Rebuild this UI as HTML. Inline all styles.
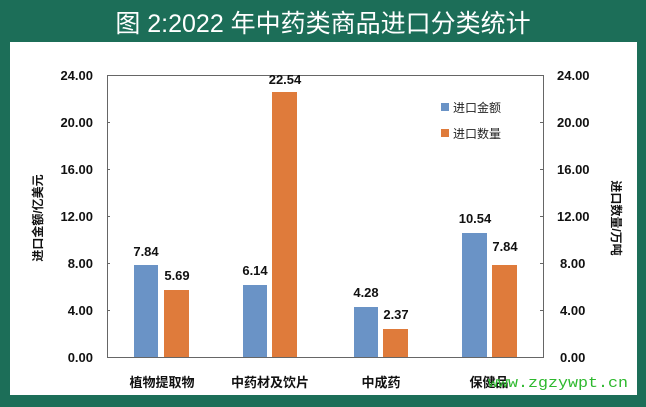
<!DOCTYPE html>
<html><head><meta charset="utf-8"><style>
body{margin:0;width:646px;height:407px;overflow:hidden;background:#1c6e58;font-family:"Liberation Sans","Noto Sans CJK SC",sans-serif;}
</style></head><body>
<svg width="646" height="407" xmlns="http://www.w3.org/2000/svg" style="position:absolute;left:0;top:0">
<rect x="0" y="0" width="646" height="407" fill="#1c6e58"/>
<rect x="10" y="42" width="627" height="353" fill="#fff"/>
<text x="323" y="32" fill="#fff" font-size="25" text-anchor="middle" font-family="Liberation Sans,Noto Sans CJK SC,sans-serif">图 2:2022 年中药类商品进口分类统计</text>
<g stroke="#666" stroke-width="1" fill="none">
<path d="M107.5 75.5 H543.5 M107.5 75 V357 M543.5 75 V357 M107 357.5 H544"/>
<path d="M107 122.5h3M107 169.5h3M107 216.5h3M107 263.5h3M107 310.5h3"/>
<path d="M540 122.5h3M540 169.5h3M540 216.5h3M540 263.5h3M540 310.5h3"/>
</g>
<g font-size="13" font-weight="bold" fill="#111" text-anchor="end" font-family="Liberation Sans,sans-serif">
<text x="93" y="80">24.00</text><text x="93" y="127">20.00</text><text x="93" y="174">16.00</text><text x="93" y="221">12.00</text><text x="93" y="268">8.00</text><text x="93" y="315">4.00</text><text x="93" y="362">0.00</text>
</g>
<g font-size="13" font-weight="bold" fill="#111" font-family="Liberation Sans,sans-serif">
<text x="557" y="80">24.00</text><text x="557" y="127">20.00</text><text x="557" y="174">16.00</text><text x="557" y="221">12.00</text><text x="560" y="268">8.00</text><text x="560" y="315">4.00</text><text x="560" y="362">0.00</text>
</g>
<text transform="translate(42,218) rotate(-90)" font-size="12" font-weight="bold" fill="#111" text-anchor="middle">进口金额/亿美元</text>
<text transform="translate(612,218) rotate(90)" font-size="12" font-weight="bold" fill="#111" text-anchor="middle">进口数量/万吨</text>
<g fill="#6a93c6">
<rect x="134" y="265" width="24" height="92"/>
<rect x="243" y="285" width="24" height="72"/>
<rect x="354" y="307" width="24" height="50"/>
<rect x="462" y="233" width="25" height="124"/>
</g>
<g fill="#df7b3b">
<rect x="164" y="290" width="25" height="67"/>
<rect x="272" y="92" width="25" height="265"/>
<rect x="383" y="329" width="25" height="28"/>
<rect x="492" y="265" width="25" height="92"/>
</g>
<g font-size="13" font-weight="bold" fill="#111" text-anchor="middle" font-family="Liberation Sans,sans-serif">
<text x="146" y="256">7.84</text><text x="177" y="280">5.69</text>
<text x="255" y="275">6.14</text><text x="285" y="84">22.54</text>
<text x="366" y="297">4.28</text><text x="396" y="319">2.37</text>
<text x="475" y="223">10.54</text><text x="505" y="251">7.84</text>
</g>
<g font-size="13" font-weight="bold" fill="#111" text-anchor="middle">
<text x="162" y="387">植物提取物</text><text x="270" y="387">中药材及饮片</text><text x="381" y="387">中成药</text><text x="489" y="387">保健品</text>
</g>
<rect x="441" y="103" width="8" height="8" fill="#6a93c6"/>
<rect x="441" y="129" width="8" height="8" fill="#df7b3b"/>
<text x="453" y="112" font-size="12" fill="#222">进口金额</text>
<text x="453" y="138" font-size="12" fill="#222">进口数量</text>
<text x="488" y="387" font-size="15" fill="#2db82d" font-family="Liberation Mono,monospace" textLength="140" lengthAdjust="spacingAndGlyphs">www.zgzywpt.cn</text>
</svg>
</body></html>
